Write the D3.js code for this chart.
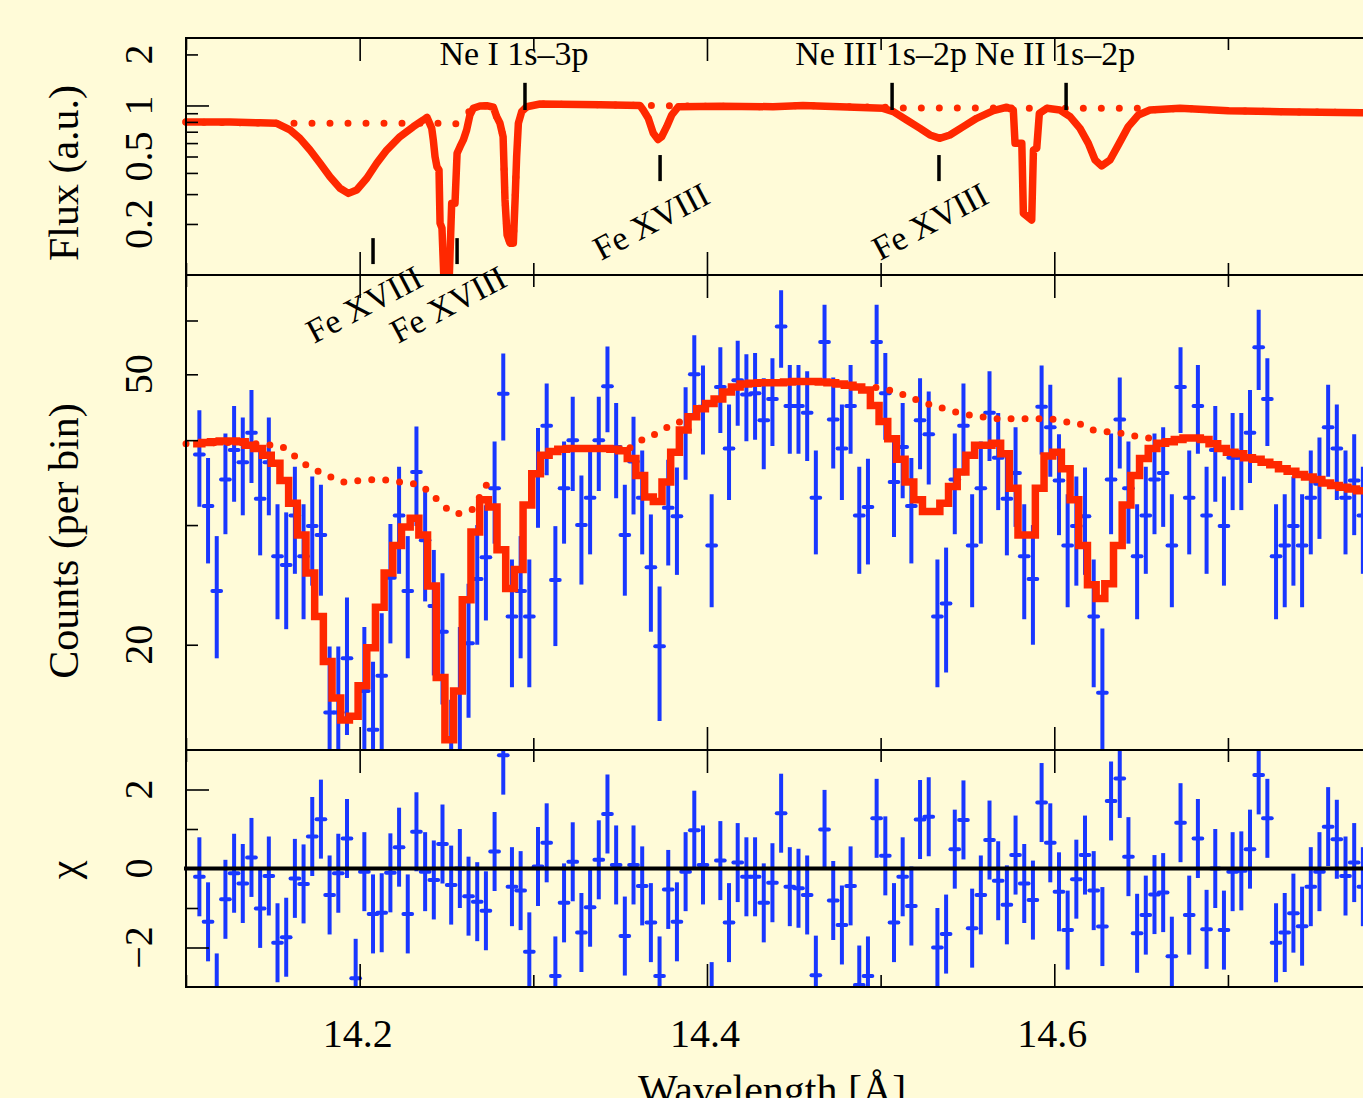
<!DOCTYPE html>
<html>
<head>
<meta charset="utf-8">
<script src="https://cdn.jsdelivr.net/npm/d3@7"></script>
<style>
  body { margin: 0; background: #fffbd8; }
  svg { display: block; }
  text { font-family: "Liberation Serif", "Times New Roman", serif; fill: #000; }
</style>
</head>
<body>
<svg id="chart"></svg>
<script>
// ------------------ DATA ------------------
// spectrum bins (0.005 A wide), first bin centre
const binStart = 14.1077;
const binWidth = 0.005;
// model histogram edges sit a little left of the data bins
const modelEdge0 = 14.1041;

// observed counts per bin
const counts = [
  38.1, 32.0, 24.0, 35.0, 38.7, 37.1, 41.0, 32.8, 37.1, 27.0,
  26.2, 31.0, 27.0, 29.9, 29.0, 15.9, 15.9, 19.1, 7.9, 17.1,
  15.0, 18.0, 25.1, 31.0, 24.0, 35.9, 28.5, 22.8, 20.9, 13.0,
  17.1, 20.1, 25.0, 26.9, 34.0, 46.8, 22.0, 24.0, 22.0, 35.7,
  42.0, 24.9, 34.0, 40.0, 30.0, 32.9, 40.0, 48.0, 39.1, 29.0,
  37.2, 32.9, 26.0, 19.9, 31.8, 30.9, 41.4, 50.0, 44.8, 28.0,
  47.9, 38.9, 49.0, 46.7, 46.9, 42.8, 46.0, 58.8, 44.9, 44.9,
  43.9, 32.9, 55.8, 42.9, 38.9, 44.9, 31.0, 31.9, 55.8, 46.9,
  34.7, 39.1, 32.0, 42.8, 40.8, 22.0, 23.0, 35.0, 42.0, 28.0,
  34.0, 43.9, 37.7, 32.8, 35.8, 27.0, 25.0, 44.8, 41.8, 34.9,
  28.0, 29.9, 30.9, 22.0, 17.0, 35.0, 42.9, 34.0, 27.0, 31.0,
  35.0, 35.8, 28.0, 47.9, 32.9, 44.9, 31.0, 38.7, 29.9, 37.7,
  37.7, 41.0, 54.8, 46.0, 27.0, 28.0, 29.9, 28.0, 32.9, 34.5,
  41.8, 38.9, 32.9, 34.9, 31.0
];

// folded model counts per bin
const model = [
  39.5, 39.7, 39.8, 39.9, 39.9, 39.8, 39.3, 38.9, 38.0, 37.0,
  34.9, 32.3, 29.0, 25.5, 22.0, 18.9, 16.7, 15.5, 15.7, 17.4,
  19.8, 22.7, 25.5, 28.0, 29.8, 30.7, 29.0, 24.4, 17.9, 14.5,
  17.1, 23.3, 29.3, 32.7, 31.9, 27.6, 24.2, 25.8, 32.1, 35.7,
  38.0, 38.5, 38.8, 38.9, 38.9, 38.9, 38.9, 38.9, 38.8, 38.6,
  37.6, 35.5, 33.0, 32.5, 34.7, 38.4, 41.4, 43.3, 44.5, 45.3,
  46.0, 47.1, 47.9, 48.4, 48.5, 48.6, 48.6, 48.6, 48.7, 48.8,
  48.8, 48.8, 48.7, 48.6, 48.4, 48.2, 47.9, 47.4, 45.0, 42.6,
  40.2, 37.5, 34.7, 32.7, 31.4, 31.4, 32.3, 34.2, 35.9, 38.0,
  39.3, 39.3, 39.6, 38.2, 34.0, 29.0, 29.0, 34.0, 37.9, 38.4,
  36.3, 32.7, 28.0, 24.5, 23.4, 24.6, 28.0, 32.1, 35.5, 37.6,
  38.9, 39.6, 39.8, 40.1, 40.3, 40.3, 40.1, 39.5, 38.9, 38.4,
  38.2, 37.7, 37.5, 37.1, 36.8, 36.3, 36.0, 35.6, 35.3, 35.0,
  34.6, 34.3, 34.1, 33.9, 33.7
];

// residuals (chi) per bin
const resid = [
  -0.21, -1.35, -3.15, -0.78, -0.12, -0.38, 0.28, -1.01, -0.19, -1.88,
  -1.74, -0.25, -0.39, 0.81, 1.25, -0.67, -0.12, 0.76, -2.78, -0.08,
  -1.15, -1.12, -0.11, 0.54, -1.15, 0.93, -0.08, -0.29, 0.62, -0.42,
  0.00, -0.70, -0.84, -1.07, 0.43, 2.87, -0.46, -0.56, -2.11, 0.05,
  0.65, -2.72, -0.87, 0.17, -1.62, -0.98, 0.22, 1.38, 0.09, -1.71,
  0.09, -0.44, -1.37, -2.72, -0.53, -1.35, -0.08, 0.97, 0.09, -3.37,
  0.20, -1.37, 0.15, -0.21, -0.21, -0.87, -0.36, 1.40, -0.46, -0.50,
  -0.67, -2.70, 0.99, -0.81, -1.43, -0.44, -2.95, -2.72, 1.27, 0.32,
  -1.37, -0.21, -0.95, 1.24, 1.31, -2.00, -1.66, 0.49, 1.23, -1.51,
  -0.67, 0.72, -0.31, -0.92, 0.34, -0.38, -0.80, 1.67, 0.65, -0.59,
  -1.56, -0.27, 0.34, -0.56, -1.47, 1.71, 2.28, 0.30, -1.64, -1.18,
  -0.66, -0.61, -2.22, 1.16, -1.18, 0.76, -1.54, 0.00, -1.56, -0.08,
  -0.06, 0.49, 2.37, 1.27, -1.88, -1.62, -1.13, -1.46, -0.46, -0.08,
  1.06, 0.74, -0.19, 0.15, -0.46
];

// continuum (dotted) in count space, null = hidden under the model
const countCont = [
  [14.1000, 39.5], [14.1253, 39.7], [14.1455, 39.4], [14.1541, 39.2], [14.1599, 38.4],
  [14.1656, 37.3], [14.1714, 36.5], [14.1781, 35.8], [14.1848, 35.2], [14.1916, 34.7],
  [14.2002, 34.9], [14.2088, 35.0], [14.2175, 34.9], [14.2261, 34.6], [14.2348, 34.4],
  [14.2395, 33.6], [14.2453, 32.6], [14.2511, 31.6], [14.2559, 31.2], [14.2645, 31.6],
  [14.2712, 33.8], [14.2751, 35.0], [14.30, null],
  [14.3557, 39.0], [14.3595, 39.6], [14.3653, 40.4], [14.3720, 41.0], [14.3787, 42.0],
  [14.3845, 42.6], [14.3885, 43.3], [14.45, null],
  [14.4973, 47.8], [14.5016, 47.5], [14.5093, 47.2], [14.5160, 46.2], [14.5237, 45.7],
  [14.5300, 44.9], [14.5371, 44.5], [14.5447, 43.9], [14.5525, 43.5], [14.5607, 43.2],
  [14.5692, 43.0], [14.5784, 43.0], [14.5879, 43.0], [14.5966, 43.0], [14.6052, 42.6],
  [14.6143, 42.3], [14.6206, 41.5], [14.6292, 41.2], [14.6369, 41.0], [14.6455, 40.6],
  [14.6542, 40.3], [14.6592, 40.0]
];

// unfolded model flux (solid) and its continuum (dotted)
const fluxModel = [
  [14.1000, 0.80], [14.1253, 0.80], [14.1426, 0.79], [14.1522, 0.785], [14.1599, 0.717],
  [14.1656, 0.640], [14.1714, 0.546], [14.1772, 0.456], [14.1829, 0.380], [14.1887, 0.325],
  [14.1935, 0.303], [14.1983, 0.317], [14.2041, 0.372], [14.2098, 0.456], [14.2156, 0.546],
  [14.2232, 0.654], [14.2309, 0.750], [14.2367, 0.821], [14.2388, 0.85], [14.2415, 0.733],
  [14.2424, 0.626], [14.2434, 0.499], [14.2445, 0.435], [14.2457, 0.416], [14.2463, 0.202],
  [14.2474, 0.189], [14.2486, 0.09], [14.2515, 0.09], [14.2530, 0.265], [14.2549, 0.265],
  [14.2561, 0.522], [14.2578, 0.571], [14.2597, 0.626], [14.2616, 0.717], [14.2635, 0.878],
  [14.2654, 0.962], [14.2693, 0.993], [14.2732, 0.997], [14.2770, 0.976], [14.2789, 0.859],
  [14.2808, 0.785], [14.2826, 0.654], [14.2837, 0.277], [14.2849, 0.172], [14.2866, 0.154],
  [14.2885, 0.154], [14.2895, 0.277], [14.2904, 0.499], [14.2914, 0.785], [14.2933, 0.919],
  [14.2962, 0.983], [14.3039, 1.02], [14.3384, 1.01], [14.3614, 1.0], [14.3633, 0.94],
  [14.3662, 0.84], [14.3691, 0.685], [14.3718, 0.63], [14.3739, 0.654], [14.3768, 0.750],
  [14.3797, 0.878], [14.3835, 0.983], [14.4075, 0.99], [14.4380, 0.983], [14.4553, 1.0],
  [14.4766, 0.983], [14.5014, 0.962], [14.5073, 0.919], [14.5150, 0.821], [14.5227, 0.733],
  [14.5284, 0.670], [14.5342, 0.640], [14.5399, 0.670], [14.5476, 0.750], [14.5553, 0.840],
  [14.5649, 0.932], [14.5726, 0.976], [14.5764, 0.94], [14.5774, 0.598], [14.5813, 0.598],
  [14.5822, 0.231], [14.5870, 0.211], [14.5880, 0.546], [14.5899, 0.559], [14.5914, 0.899],
  [14.5957, 0.962], [14.6033, 0.940], [14.6091, 0.859], [14.6148, 0.733], [14.6196, 0.598],
  [14.6235, 0.477], [14.6273, 0.440], [14.6321, 0.477], [14.6369, 0.585], [14.6426, 0.750],
  [14.6484, 0.878], [14.6551, 0.940], [14.6724, 0.962], [14.7002, 0.932], [14.7300, 0.919],
  [14.7770, 0.907], [14.8000, 0.90]
];

const fluxCont = [
  [14.1000, 0.80], [14.1522, 0.785], [14.2463, 0.785], [14.2549, 0.775], [14.2589, 0.82],
  [14.2618, 0.90], [14.2654, 0.962], [14.2693, 0.993], [14.2732, 0.997], [14.2770, 0.976],
  [14.2789, 0.859], [14.2808, 0.785], [14.2826, 0.654], [14.2837, 0.277], [14.2849, 0.172],
  [14.2866, 0.154], [14.2885, 0.154], [14.2895, 0.277], [14.2904, 0.499], [14.2914, 0.785],
  [14.2933, 0.919], [14.2962, 0.983], [14.3039, 1.02], [14.3384, 1.01], [14.3614, 1.0],
  [14.3960, 0.99], [14.4380, 0.983], [14.4553, 1.0], [14.4766, 0.983], [14.5014, 0.976],
  [14.5112, 0.965], [14.5688, 0.965], [14.6494, 0.962], [14.6551, 0.94], [14.6724, 0.962],
  [14.7002, 0.932], [14.7300, 0.919], [14.7770, 0.907], [14.8000, 0.90]
];

// line identifications
const neLines = [
  { wl: 14.2952, label: "Ne I 1s\u20133p" },
  { wl: 14.5066, label: "Ne III 1s\u20132p" },
  { wl: 14.6068, label: "Ne II 1s\u20132p" }
];
const feLines = [
  { wl: 14.2077, lo: 0.116, hi: 0.165 },
  { wl: 14.2561, lo: 0.116, hi: 0.165 },
  { wl: 14.3730, lo: 0.358, hi: 0.51 },
  { wl: 14.5336, lo: 0.358, hi: 0.51 }
];

const xMajor = [14.2, 14.4, 14.6];
const xMinor = [14.1, 14.3, 14.5, 14.7];

// ------------------ SETUP ------------------
const width = 1363, height = 1098;
const left = 186, right = 1401.6;
const red = "#ff2800", blue = "#1937ff";

const svg = d3.select("#chart")
  .attr("width", width)
  .attr("height", height);

svg.append("rect").attr("width", width).attr("height", height).attr("fill", "#fffbd8");

const x = d3.scaleLinear().domain([14.1, 14.8]).range([left, right]);
const yTop = d3.scaleLog().domain([0.1, 2.5]).range([275, 38]);
const yMid = d3.scaleLog().domain([14, 70]).range([750, 275]);
const yRes = d3.scaleLinear().domain([-3, 3]).range([987, 750]);

const panels = [
  { id: "clipTop", y: yTop },
  { id: "clipMid", y: yMid },
  { id: "clipRes", y: yRes }
];

const defs = svg.append("defs");
panels.forEach(p => {
  const [b, t] = p.y.range();
  defs.append("clipPath").attr("id", p.id)
    .append("rect")
      .attr("x", left - 4).attr("y", t)
      .attr("width", right - left + 4).attr("height", b - t);
});

const bins = counts.map((c, i) => ({
  wl: binStart + i * binWidth,
  c: c,
  e: Math.sqrt(c),          // Poisson error on the counts
  r: resid[i]
}));

// ------------------ TOP PANEL: FLUX ------------------
const gTop = svg.append("g").attr("clip-path", "url(#clipTop)");
const lineTop = d3.line().x(d => x(d[0])).y(d => yTop(d[1]));

gTop.append("path")
  .attr("d", lineTop(fluxCont))
  .attr("fill", "none")
  .attr("stroke", red)
  .attr("stroke-width", 7)
  .attr("stroke-linecap", "round")
  .attr("stroke-dasharray", "0 18");

gTop.append("path")
  .attr("d", lineTop(fluxModel))
  .attr("fill", "none")
  .attr("stroke", red)
  .attr("stroke-width", 7.5)
  .attr("stroke-linejoin", "round")
  .attr("stroke-linecap", "round");

// line markers
svg.append("g").selectAll("line.ne").data(neLines).join("line")
  .attr("x1", d => x(d.wl)).attr("x2", d => x(d.wl))
  .attr("y1", yTop(1.36)).attr("y2", yTop(0.94))
  .attr("stroke", "#000").attr("stroke-width", 3.5);

svg.append("g").selectAll("text.ne").data(neLines).join("text")
  .attr("x", d => x(d.wl) - 11)
  .attr("y", 65)
  .attr("text-anchor", "middle")
  .style("font-size", "34px")
  .text(d => d.label);

svg.append("g").selectAll("line.fe").data(feLines).join("line")
  .attr("x1", d => x(d.wl)).attr("x2", d => x(d.wl))
  .attr("y1", d => yTop(d.hi)).attr("y2", d => yTop(d.lo))
  .attr("stroke", "#000").attr("stroke-width", 3.5);

svg.append("g").selectAll("text.fe").data(feLines).join("text")
  .attr("transform", d => `translate(${x(d.wl) - 59},${yTop(d.lo) + 80}) rotate(-28)`)
  .style("font-size", "34px")
  .text("Fe XVIII");

// ------------------ MIDDLE PANEL: COUNTS ------------------
const gMid = svg.append("g").attr("clip-path", "url(#clipMid)");

gMid.selectAll("line.err").data(bins).join("line")
  .attr("x1", d => x(d.wl)).attr("x2", d => x(d.wl))
  .attr("y1", d => yMid(Math.max(d.c - d.e, 1)))
  .attr("y2", d => yMid(d.c + d.e))
  .attr("stroke", blue).attr("stroke-width", 4);

gMid.selectAll("line.val").data(bins).join("line")
  .attr("x1", d => x(d.wl - binWidth / 2)).attr("x2", d => x(d.wl + binWidth / 2))
  .attr("y1", d => yMid(d.c)).attr("y2", d => yMid(d.c))
  .attr("stroke", blue).attr("stroke-width", 4).attr("stroke-linecap", "round");

const lineMid = d3.line()
  .defined(d => d[1] != null)
  .x(d => x(d[0])).y(d => yMid(d[1]))
  .curve(d3.curveMonotoneX);

gMid.append("path")
  .attr("d", lineMid(countCont))
  .attr("fill", "none")
  .attr("stroke", red)
  .attr("stroke-width", 7)
  .attr("stroke-linecap", "round")
  .attr("stroke-dasharray", "0 14");

const stepPts = [];
model.forEach((m, i) => {
  stepPts.push([Math.max(modelEdge0 + i * binWidth, 14.1), m]);
  stepPts.push([modelEdge0 + (i + 1) * binWidth, m]);
});

gMid.append("path")
  .attr("d", d3.line().x(d => x(d[0])).y(d => yMid(d[1]))(stepPts))
  .attr("fill", "none")
  .attr("stroke", red)
  .attr("stroke-width", 7.5)
  .attr("stroke-linejoin", "miter");

// ------------------ BOTTOM PANEL: RESIDUALS ------------------
const gRes = svg.append("g").attr("clip-path", "url(#clipRes)");

gRes.selectAll("line.err").data(bins).join("line")
  .attr("x1", d => x(d.wl)).attr("x2", d => x(d.wl))
  .attr("y1", d => yRes(d.r - 1)).attr("y2", d => yRes(d.r + 1))
  .attr("stroke", blue).attr("stroke-width", 4);

gRes.selectAll("line.val").data(bins).join("line")
  .attr("x1", d => x(d.wl - binWidth / 2)).attr("x2", d => x(d.wl + binWidth / 2))
  .attr("y1", d => yRes(d.r)).attr("y2", d => yRes(d.r))
  .attr("stroke", blue).attr("stroke-width", 4).attr("stroke-linecap", "round");

svg.append("line")
  .attr("x1", left - 2).attr("x2", width)
  .attr("y1", yRes(0)).attr("y2", yRes(0))
  .attr("stroke", "#000").attr("stroke-width", 4);

// ------------------ AXES ------------------
function styleAxis(g) {
  g.select(".domain").remove();
  g.selectAll(".tick line").attr("stroke", "#000").attr("stroke-width", 1.6);
  g.selectAll(".tick text").remove();
}

panels.forEach(p => {
  const [b, t] = p.y.range();
  // frame
  svg.append("rect")
    .attr("x", left).attr("y", t)
    .attr("width", right - left + 20).attr("height", b - t)
    .attr("fill", "none").attr("stroke", "#000").attr("stroke-width", 2);
  // x ticks, inward on both edges
  [[xMajor, 23], [xMinor, 12]].forEach(([vals, len]) => {
    svg.append("g").attr("transform", `translate(0,${t})`)
      .call(d3.axisBottom(x).tickValues(vals).tickSize(len)).call(styleAxis);
    svg.append("g").attr("transform", `translate(0,${b})`)
      .call(d3.axisTop(x).tickValues(vals).tickSize(len)).call(styleAxis);
  });
});

function yTicks(scale, vals, len) {
  svg.append("g").attr("transform", `translate(${left},0)`)
    .call(d3.axisRight(scale).tickValues(vals).tickSize(len)).call(styleAxis);
}
yTicks(yTop, [0.2, 0.3, 0.4, 0.5, 0.6, 0.7, 0.8, 0.9, 2], 12);
yTicks(yTop, [1], 23);
yTicks(yMid, [20, 30, 40, 50, 60], 12);
yTicks(yRes, [-1, 1], 12);
yTicks(yRes, [-2, 0, 2], 23);

// tick labels
function yLabels(scale, vals) {
  svg.append("g").selectAll("text").data(vals).join("text")
    .attr("transform", d => `translate(152,${scale(d[0])}) rotate(-90)`)
    .attr("text-anchor", "middle")
    .style("font-size", "40px")
    .text(d => d[1]);
}
yLabels(yTop, [[0.2, "0.2"], [0.5, "0.5"], [1, "1"], [2, "2"]]);
yLabels(yMid, [[20, "20"], [50, "50"]]);
yLabels(yRes, [[-2, "\u22122"], [0, "0"], [2, "2"]]);

svg.append("g").selectAll("text").data(xMajor).join("text")
  .attr("x", d => x(d) - 2)
  .attr("y", 1047)
  .attr("text-anchor", "middle")
  .style("font-size", "40px")
  .text(d => d.toFixed(1));

// axis titles
[["Flux (a.u.)", 173], ["Counts (per bin)", 541], ["\u03c7", 870]].forEach(([t, cy]) => {
  svg.append("text")
    .attr("transform", `translate(78,${cy}) rotate(-90)`)
    .attr("text-anchor", "middle")
    .style("font-size", "42px")
    .text(t);
});

// x title: sits at the lower edge, partly cut as in the original frame
svg.append("text")
  .attr("x", 638)
  .attr("y", 1104)
  .style("font-size", "42px")
  .text("Wavelength [\u00c5]");
</script>
</body>
</html>
